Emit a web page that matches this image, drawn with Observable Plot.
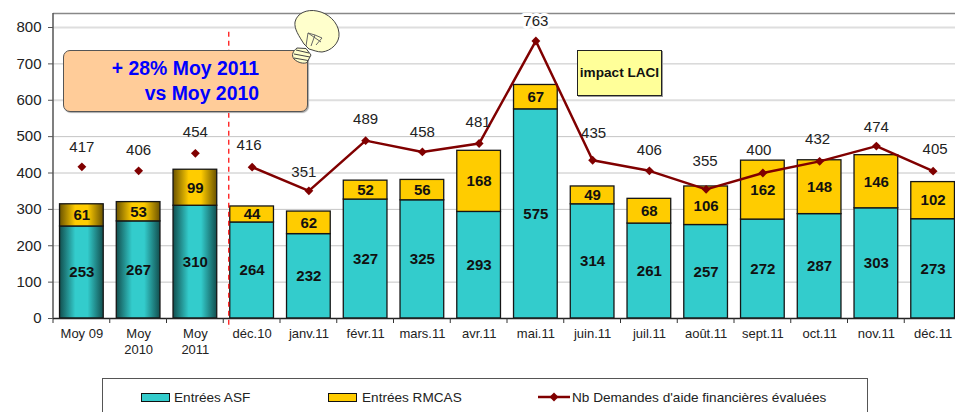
<!DOCTYPE html>
<html lang="fr">
<head>
<meta charset="utf-8">
<script src="https://cdn.jsdelivr.net/npm/d3@7"></script>
<script src="https://cdn.jsdelivr.net/npm/@observablehq/plot@0.6"></script>
<style>
html,body{margin:0;padding:0;width:955px;height:412px;overflow:hidden;background:#fff;font-family:"Liberation Sans",Arial,sans-serif}
#wrap{position:relative;width:955px;height:412px;overflow:hidden}
#chart svg{display:block}
.callout{position:absolute;left:63px;top:50px;width:245px;height:62px;box-sizing:border-box;background:#FFCC99;border:1.3px solid #555;border-radius:7px;box-shadow:1px 1px 1px #aaa}
.callout div{position:absolute;right:48px;font:bold 19.4px "Liberation Sans",Arial,sans-serif;color:#0000FF;white-space:nowrap}
.laci{position:absolute;left:577px;top:50px;width:85px;height:46px;box-sizing:border-box;background:#FFFF99;border:1px solid #222;box-shadow:1px 1px 0 #999;font:bold 13.6px/44px "Liberation Sans",Arial,sans-serif;text-align:center;color:#111;white-space:nowrap}
.bulb{position:absolute;left:0;top:0}
.legend{position:relative;margin:6px 0 0 102px;width:766px;height:50px;box-sizing:border-box;border:1.3px solid #555;background:#fff;font-size:13.6px;color:#222}
.legend span{position:absolute;top:11px;white-space:nowrap}
.legend i{position:absolute;top:14px;width:29px;height:9px;box-sizing:border-box;border:1.3px solid #111}
.legend svg{position:absolute;top:9px}
</style>
</head>
<body>
<div id="wrap">
  <div id="chart"></div>
  <div class="legend">
    <i style="left:38px;background:#33CCCC"></i><span style="left:71px">Entrées ASF</span>
    <i style="left:225px;background:#FFCC00"></i><span style="left:259px">Entrées RMCAS</span>
    <svg style="left:435px" width="34" height="20"><line x1="0" x2="32" y1="9" y2="9" stroke="#800000" stroke-width="2.5"/><path d="M16 4.5L20.5 9L16 13.5L11.500 9Z" fill="#800000"/></svg>
    <span style="left:469px">Nb Demandes d'aide financières évaluées</span>
  </div>
  <div class="callout"><div style="top:6px">+ 28% Moy 2011</div><div style="top:31px">vs Moy 2010</div></div>
  <div class="laci">impact LACI</div>
  <svg class="bulb" width="955" height="100" style="pointer-events:none">
    <g stroke="#444" stroke-width="1" fill="#FFFFCC">
      <path d="M304 44C299 36 294 29 295 22C297 13 307 9 317 11C328 13 338 22 339 33C340 43 331 51 322 52C317 52 313 50 309 49Z"/>
      <path d="M297 48L306 48.500L311 55L307 62.500C304 64 298 63 294 59C291 55 293 51 297 48Z"/>
      <path d="M296 50L309 53M294 54L310 57M294 58L308 60.500" fill="none"/>
      <path d="M306 46L308 33L315 35L311 46M308 33L321 42M315 35L322 38L316 45" fill="none" stroke="#666"/>
    </g>
  </svg>
</div>
<script>
const categories = ["Moy 09","Moy\n2010","Moy\n2011","déc.10","janv.11","févr.11","mars.11","avr.11","mai.11","juin.11","juil.11","août.11","sept.11","oct.11","nov.11","déc.11"];
const entreesASF = [253,267,310,264,232,327,325,293,575,314,261,257,272,287,303,273];
const entreesRMCAS = [61,53,99,44,62,52,56,168,67,49,68,106,162,148,146,102];
const demandes = [417,406,454,416,351,489,458,481,763,435,406,355,400,432,474,405];
const labelNudgeX = [0,0,0,-3,-5,0,0,-1,0,1,0,-1,-4,-2,0,2];
const labelNudgeY = [-20,-21,-21,-22,-19,-21,-20,-21,-20,-27,-21,-28,-23,-22,-19,-22];
const yTicks = [0,100,200,300,400,500,600,700,800];
const barGap = 0.23;
const highlighted = new Set(categories.slice(0,3));

const segments = categories.flatMap((c,i)=>[
  {c,y1:0,y2:entreesASF[i],v:entreesASF[i],s:"asf"},
  {c,y1:entreesASF[i],y2:entreesASF[i]+entreesRMCAS[i],v:entreesRMCAS[i],s:"rmcas"}
]);
const points = categories.map((c,i)=>({c,v:demandes[i],i}));
const fillOf = d => highlighted.has(d.c) ? `url(#grad-${d.s})` : (d.s==="asf" ? "#33CCCC" : "#FFCC00");

const defs = () => {
  const g = d3.create("svg:defs");
  for (const [id,edge,mid] of [["asf","#124f4f","#33CCCC"],["rmcas","#6b5300","#FFCC00"]]) {
    const lg = g.append("linearGradient").attr("id","grad-"+id);
    lg.append("stop").attr("offset","0").attr("stop-color",edge);
    lg.append("stop").attr("offset","0.36").attr("stop-color",mid);
    lg.append("stop").attr("offset","0.64").attr("stop-color",mid);
    lg.append("stop").attr("offset","1").attr("stop-color",edge);
  }
  return g.node();
};

const boundaries = (index, {x, y}) => {
  const g = d3.create("svg:g");
  const step = x(categories[1]) - x(categories[0]);
  const offset = step * barGap / 2;
  categories.forEach(c => {
    g.append("line").attr("x1",x(c)-offset).attr("x2",x(c)-offset)
      .attr("y1",y(0)).attr("y2",y(0)+5).attr("stroke","#333").attr("stroke-width",1);
  });
  return g.node();
};

const separator = (index, {x, y}) => d3.create("svg:line")
  .attr("x1",x("déc.10")-1).attr("x2",x("déc.10")-1)
  .attr("y1",y(787)).attr("y2",y(0)+11)
  .attr("stroke","#FF0000").attr("stroke-width",1.2).attr("stroke-dasharray","5,4").node();

const leftAxisLine = (index, {y}) => d3.create("svg:line")
  .attr("x1",53).attr("x2",53).attr("y1",y(838.5)).attr("y2",y(0))
  .attr("stroke","#555").attr("stroke-width",1.5).node();

const plot = Plot.plot({
  width:955, height:372,
  marginLeft:53, marginRight:0, marginTop:13, marginBottom:54,
  style:{fontFamily:"Liberation Sans, Arial, sans-serif",background:"transparent"},
  x:{type:"band",domain:categories,range:[53,961],paddingInner:barGap,paddingOuter:barGap/2,align:0.5,round:false,label:null},
  y:{domain:[0,838.5],range:[318,13],label:null},
  color:{type:"identity"},
  marks:[
    defs,
    Plot.ruleY(yTicks.filter(t=>t>0),{y:d=>d,stroke:d=>d===800||d===600?"#dedede":"#c4c4c4",strokeWidth:d=>d===800||d===600?2:1}),
    Plot.ruleY([838.5],{stroke:"#888",strokeWidth:1.4}),
    Plot.barY(segments,{x:"c",y1:"y1",y2:"y2",fill:fillOf,stroke:"#151515",strokeWidth:1.3}),
    Plot.ruleY([0],{stroke:"#222",strokeWidth:1.4}),
    boundaries,
    Plot.axisX({tickSize:0,tickPadding:7,fontSize:13,lineHeight:1.3,fill:"#222",tickFormat:d=>d}),
    Plot.axisY({ticks:yTicks,tickSize:5,tickPadding:7,fontSize:15,fill:"#222",stroke:"#555",label:null}),
    leftAxisLine,
    Plot.text(segments,{x:"c",y:d=>(d.y1+d.y2)/2,text:d=>String(d.v),fontSize:15,fontWeight:"bold",fill:"#111"}),
    Plot.line(points.slice(3),{x:"c",y:"v",stroke:"#800000",strokeWidth:2.5}),
    Plot.dot(points,{x:"c",y:"v",symbol:"diamond2",r:4,fill:"#800000"}),
    ...points.map(p=>Plot.text([p],{x:"c",y:"v",text:d=>String(d.v),fontSize:15,fill:"#222",dx:labelNudgeX[p.i],dy:labelNudgeY[p.i],
      ...(p.v===763?{stroke:"#fff",strokeWidth:6}:{})})),
    separator
  ]
});
document.getElementById("chart").appendChild(plot);
</script>
</body>
</html>
